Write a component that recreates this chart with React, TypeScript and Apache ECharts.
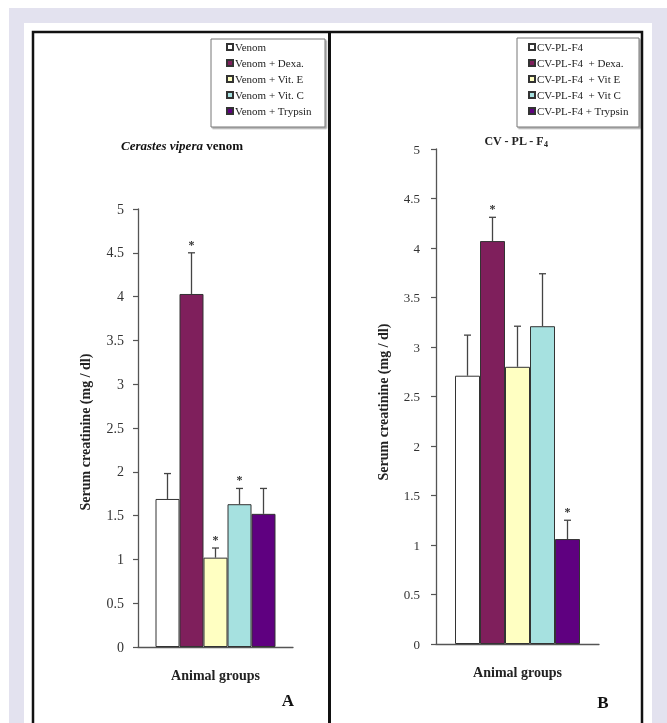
import React, { useEffect, useRef } from 'react';
import * as echarts from 'echarts';

const categories = ['Animal groups'];

const groupsA = ['Venom', 'Venom + Dexa.', 'Venom + Vit. E', 'Venom + Vit. C', 'Venom + Trypsin'];
const meansA = [1.69, 4.03, 1.02, 1.63, 1.52];
const errA = [0.29, 0.47, 0.11, 0.18, 0.29];
const sigA = [false, true, true, true, false];

const groupsB = ['CV-PL-F4', 'CV-PL-F4  + Dexa.', 'CV-PL-F4  + Vit E', 'CV-PL-F4  + Vit C', 'CV-PL-F4 + Trypsin'];
const meansB = [2.71, 4.07, 2.8, 3.21, 1.06];
const errB = [0.41, 0.24, 0.41, 0.53, 0.19];
const sigB = [false, true, false, false, true];

const colors = ['#ffffff', '#7f1f5c', '#ffffc2', '#a6e1e0', '#5f0080'];

const FONT = '"Liberation Serif", "Times New Roman", serif';

function barSeries(names: string[], means: number[], g: number, bw: number) {
  return names.map((n, i) => ({
    name: n,
    type: 'bar',
    xAxisIndex: g,
    yAxisIndex: g,
    data: [means[i]],
    barWidth: bw,
    barGap: '0%',
    itemStyle: { color: colors[i], borderColor: '#333', borderWidth: 1 },
    z: 2,
  }));
}

function errSeries(means: number[], errs: number[], sig: boolean[], g: number, bw: number) {
  return {
    type: 'custom',
    xAxisIndex: g,
    yAxisIndex: g,
    z: 3,
    silent: true,
    data: means.map((m, i) => [0, m, m + errs[i], i, sig[i] ? 1 : 0]),
    encode: { x: 0, y: [1, 2] },
    renderItem: (params: any, api: any) => {
      const i = api.value(3);
      const base = api.coord([0, api.value(1)]);
      const top = api.coord([0, api.value(2)]);
      const x = base[0] + (i - 2) * bw;
      const st = { stroke: '#444', lineWidth: 1.3 };
      const children: any[] = [
        { type: 'line', shape: { x1: x, y1: base[1], x2: x, y2: top[1] }, style: st },
        { type: 'line', shape: { x1: x - 3.5, y1: top[1], x2: x + 3.5, y2: top[1] }, style: st },
      ];
      if (api.value(4)) {
        children.push({
          type: 'text',
          style: {
            text: '*',
            x,
            y: top[1] - 8,
            align: 'center',
            verticalAlign: 'middle',
            font: `bold 12px ${FONT}`,
            fill: '#333',
          },
        });
      }
      return { type: 'group', children };
    },
  };
}

function yAxis(g: number, margin: number, padRight: number, fs: number) {
  return {
    type: 'value',
    gridIndex: g,
    min: 0,
    max: 5,
    interval: 0.5,
    axisLine: { show: true, lineStyle: { color: '#555', width: 1.3 } },
    axisTick: { show: true, length: 5, lineStyle: { color: '#555', width: 1.2 } },
    splitLine: { show: false },
    axisLabel: { fontFamily: FONT, fontSize: fs, color: '#333', margin },
    name: 'Serum creatinine (mg / dl)',
    nameLocation: 'middle',
    nameGap: 46,
    nameTextStyle: {
      fontFamily: FONT,
      fontWeight: 'bold',
      fontSize: 14,
      color: '#222',
      padding: [0, padRight, 0, 0],
    },
  };
}

function xAxis(g: number) {
  return {
    type: 'category',
    gridIndex: g,
    data: categories,
    axisLine: { show: true, lineStyle: { color: '#555', width: 1.3 } },
    axisTick: { show: false },
    axisLabel: { show: false },
    name: 'Animal groups',
    nameLocation: 'middle',
    nameGap: 21,
    nameTextStyle: { fontFamily: FONT, fontWeight: 'bold', fontSize: 14, color: '#222' },
  };
}

function legend(names: string[], left: number) {
  return {
    data: names,
    orient: 'vertical',
    left,
    top: 41,
    itemWidth: 6,
    itemHeight: 6,
    itemGap: 4,
    padding: 0,
    icon: 'rect',
    selectedMode: false,
    textStyle: { fontFamily: FONT, fontSize: 11, color: '#222', lineHeight: 12, padding: [0, 0, 0, -3] },
  };
}

export default function App() {
  const ref = useRef<HTMLDivElement>(null);
  useEffect(() => {
    if (!ref.current) return;
    const chart = echarts.init(ref.current, undefined, { renderer: 'svg' });
    const option: any = {
      animation: false,
      title: [
        {
          text: '{i|Cerastes vipera}{b| venom}',
          left: 182,
          top: 138,
          padding: 0,
          textAlign: 'center',
          textStyle: {
            rich: {
              i: { fontFamily: FONT, fontStyle: 'italic', fontWeight: 'bold', fontSize: 13, color: '#111', lineHeight: 14 },
              b: { fontFamily: FONT, fontWeight: 'bold', fontSize: 13, color: '#111', lineHeight: 14 },
            },
          },
        },
        {
          text: '{b|CV - PL - F}{s|4}',
          left: 516,
          top: 134,
          padding: 0,
          textAlign: 'center',
          textStyle: {
            rich: {
              b: { fontFamily: FONT, fontWeight: 'bold', fontSize: 12, color: '#222', lineHeight: 14 },
              s: { fontFamily: FONT, fontWeight: 'bold', fontSize: 8, color: '#222', lineHeight: 8, verticalAlign: 'bottom' },
            },
          },
        },
      ],
      legend: [legend(groupsA, 226), legend(groupsB, 528)],
      grid: [
        { left: 138, top: 209, width: 155, height: 438, containLabel: false },
        { left: 436, top: 149, width: 163, height: 495, containLabel: false },
      ],
      xAxis: [xAxis(0), xAxis(1)],
      yAxis: [yAxis(0, 14, 8, 14), yAxis(1, 16, 11, 13)],
      series: [
        ...barSeries(groupsA, meansA, 0, 24),
        errSeries(meansA, errA, sigA, 0, 24),
        ...barSeries(groupsB, meansB, 1, 25),
        errSeries(meansB, errB, sigB, 1, 25),
      ],
      graphic: [
        { type: 'rect', z: -10, silent: true, shape: { x: 9, y: 8, width: 658, height: 715 }, style: { fill: '#e3e2ef' } },
        { type: 'rect', z: -9, silent: true, shape: { x: 24, y: 23, width: 628, height: 700 }, style: { fill: '#ffffff' } },
        { type: 'rect', z: -8, silent: true, shape: { x: 33, y: 32, width: 609, height: 710 }, style: { fill: 'none', stroke: '#111', lineWidth: 2.5 } },
        { type: 'line', z: -8, silent: true, shape: { x1: 329.5, y1: 32, x2: 329.5, y2: 723 }, style: { stroke: '#111', lineWidth: 3 } },
        { type: 'rect', z: -7, silent: true, shape: { x: 211, y: 39, width: 114, height: 88 }, style: { fill: '#fff', stroke: '#777', lineWidth: 1, shadowColor: 'rgba(0,0,0,0.35)', shadowOffsetX: 1.5, shadowOffsetY: 1.5, shadowBlur: 1 } },
        { type: 'rect', z: -7, silent: true, shape: { x: 517, y: 38, width: 122, height: 89 }, style: { fill: '#fff', stroke: '#777', lineWidth: 1, shadowColor: 'rgba(0,0,0,0.35)', shadowOffsetX: 1.5, shadowOffsetY: 1.5, shadowBlur: 1 } },
        { type: 'text', z: 5, silent: true, style: { text: 'A', x: 288, y: 700, align: 'center', verticalAlign: 'middle', font: `bold 17px ${FONT}`, fill: '#111' } },
        { type: 'text', z: 5, silent: true, style: { text: 'B', x: 603, y: 702, align: 'center', verticalAlign: 'middle', font: `bold 17px ${FONT}`, fill: '#111' } },
      ],
    };
    chart.setOption(option);
    return () => chart.dispose();
  }, []);
  return <div ref={ref} style={{ position: 'fixed', left: 0, top: 0, width: 667, height: 723 }} />;
}
